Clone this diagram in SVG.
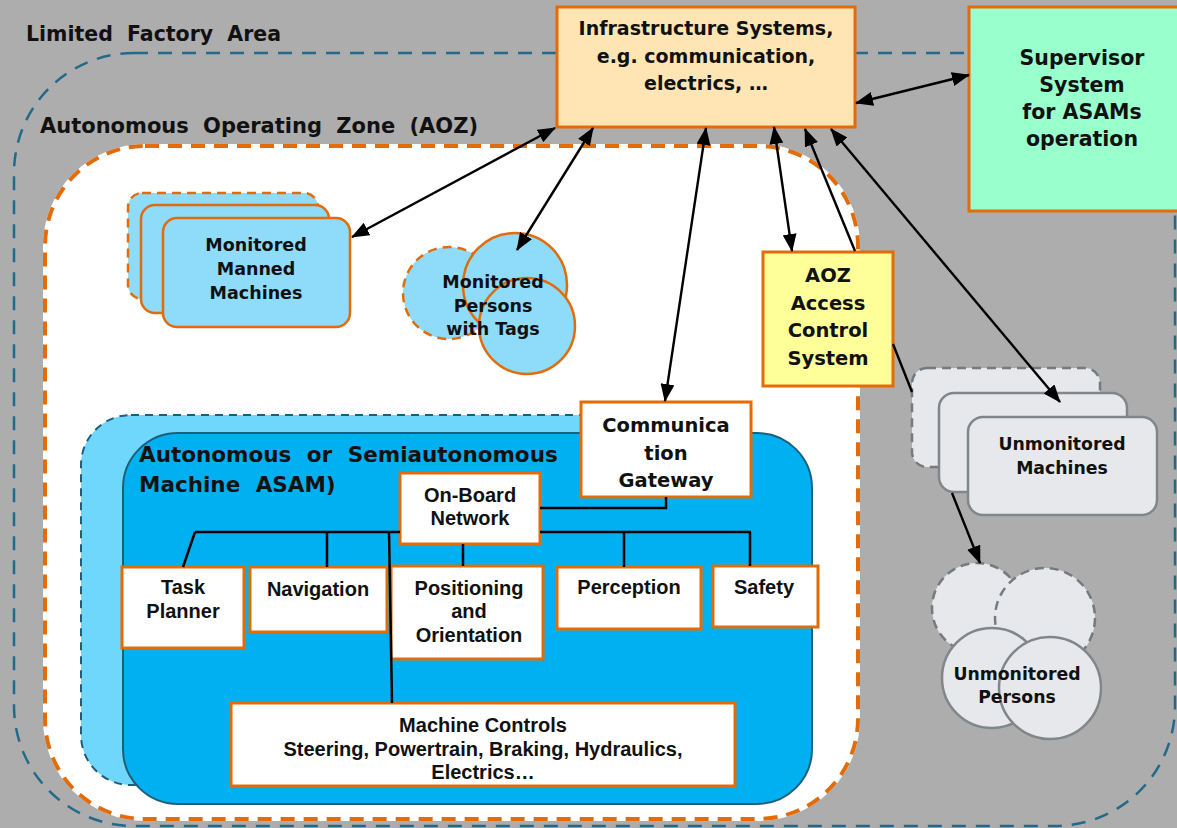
<svg xmlns="http://www.w3.org/2000/svg" width="1177" height="828" viewBox="0 0 1177 828">
<defs>
<marker id="ah" viewBox="0 0 18 14" refX="17" refY="7" markerWidth="18" markerHeight="14" markerUnits="userSpaceOnUse" orient="auto-start-reverse"><path d="M0,0 L18,7 L0,14 z" fill="#000"/></marker>
<style>
.t{font-family:"DejaVu Sans",Verdana,sans-serif;font-weight:bold;fill:#111;text-anchor:middle}
.ti{font-family:"Liberation Sans",Arial,sans-serif;font-weight:bold;font-size:20px;fill:#111;text-anchor:middle}
.lbl{font-family:"DejaVu Sans",Verdana,sans-serif;font-weight:bold;fill:#111}
.ob{stroke:#E36C09;stroke-width:3}
.box{fill:#fff;stroke:#E36C09;stroke-width:3}
.blue{fill:#8EDBFA;stroke:#E36C09;stroke-width:2.5}
.grey{fill:#E6E8EB;stroke:#80868A;stroke-width:2.5}
.con{fill:none;stroke:#000;stroke-width:2.4}
.bus{fill:none;stroke:#000;stroke-width:2.5}
</style>
</defs>
<rect x="0" y="0" width="1177" height="828" fill="#ADADAD"/>

<g id="limited-factory-area">
<rect x="14" y="53" width="1161" height="773" rx="120" fill="none" stroke="#226A89" stroke-width="2.5" stroke-dasharray="14 10"/>
<text class="lbl" x="26" y="41" font-size="20.5" word-spacing="7">Limited Factory Area</text>
</g>

<g id="aoz">
<rect x="45" y="146" width="813" height="673" rx="100" fill="#fff" stroke="#fff" stroke-width="4"/>
<rect x="45" y="146" width="813" height="673" rx="100" fill="none" stroke="#E36C09" stroke-width="4" stroke-dasharray="14 9"/>
<text class="lbl" x="40" y="133" font-size="21" word-spacing="7">Autonomous Operating Zone (AOZ)</text>
</g>

<g id="monitored-manned-machines">
<rect x="128" y="193" width="190" height="106" rx="14" fill="#8EDBFA" stroke="#E36C09" stroke-width="2.5" stroke-dasharray="9 6"/>
<rect class="blue" x="141" y="205" width="188" height="108" rx="14"/>
<rect class="blue" x="163" y="218" width="187" height="109" rx="14"/>
<text class="t" font-size="17.5"><tspan x="256" y="251">Monitored</tspan><tspan x="256" y="275">Manned</tspan><tspan x="256" y="299">Machines</tspan></text>
</g>

<g id="monitored-persons">
<circle cx="449" cy="293" r="46" fill="#8EDBFA" stroke="#E36C09" stroke-width="2.5" stroke-dasharray="9 6"/>
<circle class="blue" cx="515" cy="285" r="52"/>
<circle class="blue" cx="527" cy="326" r="48"/>
<text class="t" font-size="17.5"><tspan x="493" y="288">Monitored</tspan><tspan x="493" y="312">Persons</tspan><tspan x="493" y="335">with Tags</tspan></text>
</g>

<g id="asam">
<rect x="81" y="415" width="680" height="370" rx="50" fill="#70D7FC" stroke="#1D5F7A" stroke-width="2" stroke-dasharray="8 6"/>
<rect x="123" y="433" width="689" height="371" rx="55" fill="#00B0F0" stroke="#1D5F7A" stroke-width="2"/>
<text class="lbl" font-size="21.5" word-spacing="8"><tspan x="139" y="462">Autonomous or Semiautonomous</tspan><tspan x="139" y="492">Machine ASAM)</tspan></text>
</g>

<g id="on-board-network">
<rect class="box" x="400" y="473" width="140" height="71"/>
<text class="ti"><tspan x="470" y="502">On-Board</tspan><tspan x="470" y="525">Network</tspan></text>
</g>
<g id="task-planner">
<rect class="box" x="122" y="567" width="122" height="81"/>
<text class="ti"><tspan x="183" y="594">Task</tspan><tspan x="183" y="618">Planner</tspan></text>
</g>
<g id="navigation">
<rect class="box" x="250" y="567" width="137" height="65"/>
<text class="ti" x="318" y="596">Navigation</text>
</g>
<g id="positioning">
<rect class="box" x="391" y="566" width="152" height="93"/>
<text class="ti"><tspan x="469" y="595">Positioning</tspan><tspan x="469" y="618">and</tspan><tspan x="469" y="642">Orientation</tspan></text>
</g>
<g id="perception">
<rect class="box" x="557" y="567" width="144" height="62"/>
<text class="ti" x="629" y="594">Perception</text>
</g>
<g id="safety">
<rect class="box" x="713" y="566" width="105" height="61"/>
<text class="ti" x="764" y="594">Safety</text>
</g>
<g id="machine-controls">
<rect class="box" x="231" y="703" width="504" height="83"/>
<text class="ti"><tspan x="483" y="732">Machine Controls</tspan><tspan x="483" y="756">Steering, Powertrain, Braking, Hydraulics,</tspan><tspan x="483" y="779">Electrics…</tspan></text>
</g>

<g id="communication-gateway">
<rect class="box" x="581" y="402" width="170" height="95"/>
<text class="t" font-size="19.5"><tspan x="666" y="432">Communica</tspan><tspan x="666" y="460">tion</tspan><tspan x="666" y="487">Gateway</tspan></text>
</g>

<g id="aoz-access-control">
<rect x="763" y="252" width="130" height="134" fill="#FFFF99" class="ob"/>
<text class="t" font-size="19.5"><tspan x="828" y="282">AOZ</tspan><tspan x="828" y="310">Access</tspan><tspan x="828" y="337">Control</tspan><tspan x="828" y="365">System</tspan></text>
</g>

<g id="unmonitored-machines">
<rect x="912" y="368" width="188" height="99" rx="15" fill="#E6E8EB" stroke="#747A7E" stroke-width="2.5" stroke-dasharray="9 6"/>
<rect class="grey" x="939" y="393" width="188" height="99" rx="15"/>
<rect class="grey" x="968" y="417" width="189" height="98" rx="15"/>
<text class="t" font-size="17.3"><tspan x="1062" y="450">Unmonitored</tspan><tspan x="1062" y="474">Machines</tspan></text>
</g>

<g id="unmonitored-persons">
<circle cx="977" cy="608" r="45" fill="#E6E8EB" stroke="#747A7E" stroke-width="2.5" stroke-dasharray="9 6"/>
<circle cx="1045" cy="618" r="50" fill="#E6E8EB" stroke="#747A7E" stroke-width="2.5" stroke-dasharray="9 6"/>
<circle class="grey" cx="992" cy="678" r="50"/>
<circle class="grey" cx="1050" cy="688" r="51"/>
<text class="t" font-size="17.3"><tspan x="1017" y="680">Unmonitored</tspan><tspan x="1017" y="703">Persons</tspan></text>
</g>

<g id="infrastructure-systems">
<rect x="557" y="7" width="298" height="120" fill="#FFE5B4" class="ob"/>
<text class="t" font-size="19"><tspan x="706" y="35">Infrastructure Systems,</tspan><tspan x="706" y="63">e.g. communication,</tspan><tspan x="706" y="90">electrics, …</tspan></text>
</g>

<g id="supervisor-system">
<rect x="969" y="7" width="212" height="204" fill="#99FFCC" class="ob"/>
<text class="t" font-size="20.5"><tspan x="1082" y="65">Supervisor</tspan><tspan x="1082" y="92">System</tspan><tspan x="1082" y="119">for ASAMs</tspan><tspan x="1082" y="146">operation</tspan></text>
</g>

<g id="connectors">
<path class="con" d="M856,103 L969,75" marker-start="url(#ah)" marker-end="url(#ah)"/>
<path class="con" d="M555,128 L352,237" marker-start="url(#ah)" marker-end="url(#ah)"/>
<path class="con" d="M593,128 L517,250" marker-start="url(#ah)" marker-end="url(#ah)"/>
<path class="con" d="M706,128 L665,401" marker-start="url(#ah)" marker-end="url(#ah)"/>
<path class="con" d="M774,127 L792,251" marker-start="url(#ah)" marker-end="url(#ah)"/>
<path class="con" d="M855,251 L805,129" marker-end="url(#ah)"/>
<path class="con" d="M831,129 L1060,402" marker-start="url(#ah)" marker-end="url(#ah)"/>
<path class="con" d="M893,344 L912,392 M952,493 L980,563" marker-end="url(#ah)"/>
<path class="bus" d="M666,497 V508 H540"/>
<path class="bus" d="M195,532 H400 M540,532 H751"/>
<path class="bus" d="M195,532 L183,567"/>
<path class="bus" d="M327,532 V567"/>
<path class="bus" d="M389,532 L392,703"/>
<path class="bus" d="M463,544 V566"/>
<path class="bus" d="M624,532 V567"/>
<path class="bus" d="M750,532 V566"/>
</g>
</svg>
